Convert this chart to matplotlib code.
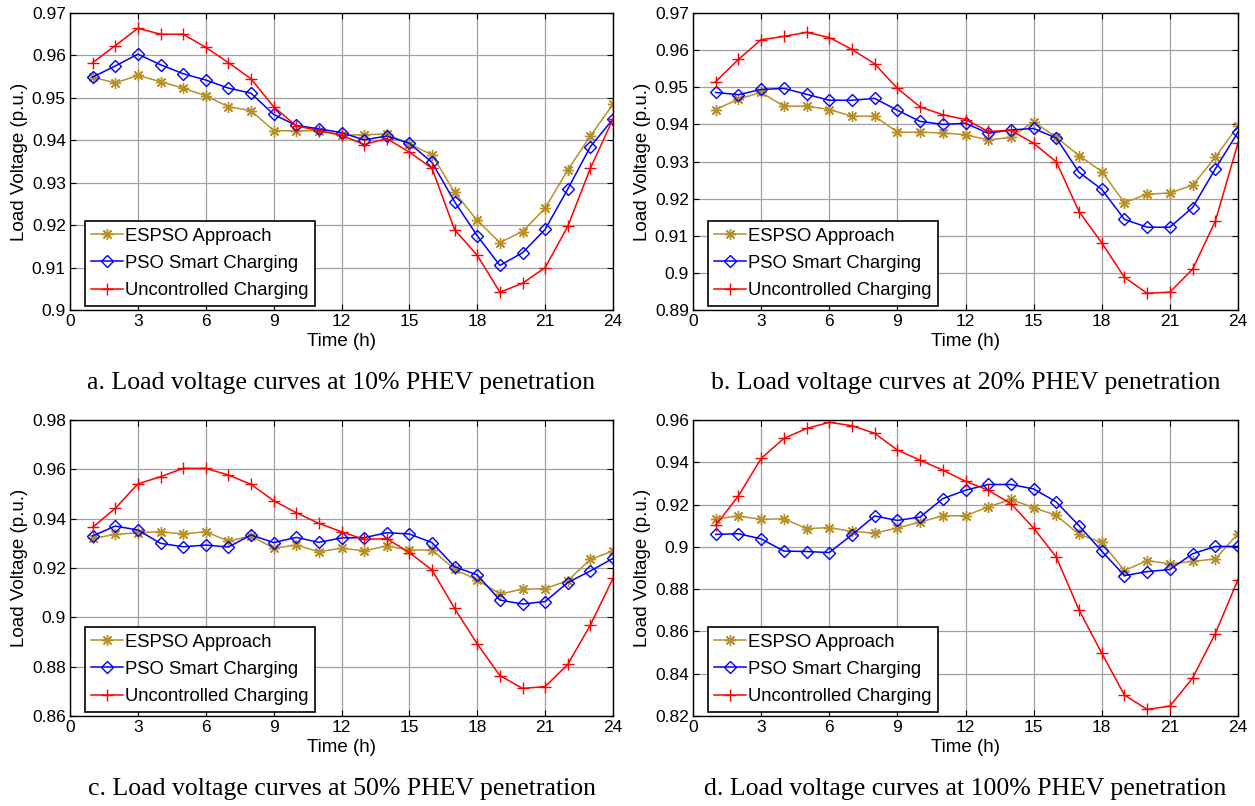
import numpy as np
import matplotlib.pyplot as plt

hours = np.arange(1, 25)

# (a) 10% PHEV penetration
espso_a = [0.9549, 0.9535, 0.9553, 0.9538, 0.9523, 0.9505, 0.9479, 0.9470, 0.9423, 0.9422, 0.9423, 0.9412,
           0.9413, 0.9415, 0.9391, 0.9366, 0.9277, 0.9211, 0.9159, 0.9185, 0.9240, 0.9330, 0.9410, 0.9485]
pso_a = [0.9549, 0.9575, 0.9603, 0.9578, 0.9557, 0.9542, 0.9523, 0.9511, 0.9461, 0.9435, 0.9427, 0.9418,
         0.9401, 0.9410, 0.9393, 0.9348, 0.9255, 0.9175, 0.9105, 0.9135, 0.9190, 0.9285, 0.9385, 0.9450]
unc_a = [0.9583, 0.9623, 0.9664, 0.9650, 0.9650, 0.9619, 0.9583, 0.9545, 0.9479, 0.9434, 0.9423, 0.9412,
         0.9390, 0.9404, 0.9372, 0.9334, 0.9189, 0.9129, 0.9042, 0.9063, 0.9100, 0.9197, 0.9334, 0.9450]

# (b) 20% PHEV penetration
espso_b = [0.9440, 0.9468, 0.9486, 0.9449, 0.9449, 0.9440, 0.9422, 0.9422, 0.9379, 0.9379, 0.9377, 0.9372,
           0.9358, 0.9365, 0.9407, 0.9365, 0.9316, 0.9273, 0.9189, 0.9212, 0.9215, 0.9236, 0.9311, 0.9396]
pso_b = [0.9486, 0.9480, 0.9494, 0.9497, 0.9481, 0.9465, 0.9465, 0.9470, 0.9438, 0.9408, 0.9400, 0.9403,
         0.9376, 0.9385, 0.9389, 0.9363, 0.9271, 0.9225, 0.9144, 0.9123, 0.9123, 0.9176, 0.9280, 0.9379]
unc_b = [0.9515, 0.9575, 0.9628, 0.9637, 0.9648, 0.9634, 0.9602, 0.9563, 0.9497, 0.9447, 0.9426, 0.9413,
         0.9381, 0.9384, 0.9349, 0.9299, 0.9165, 0.9081, 0.8988, 0.8945, 0.8948, 0.9010, 0.9139, 0.9350]

# (c) 50% PHEV penetration
espso_c = [0.9320, 0.9336, 0.9343, 0.9347, 0.9338, 0.9347, 0.9309, 0.9330, 0.9280, 0.9293, 0.9266, 0.9280,
           0.9270, 0.9289, 0.9273, 0.9273, 0.9195, 0.9151, 0.9095, 0.9114, 0.9116, 0.9149, 0.9235, 0.9269]
pso_c = [0.9330, 0.9370, 0.9354, 0.9300, 0.9286, 0.9293, 0.9285, 0.9334, 0.9303, 0.9324, 0.9304, 0.9322,
         0.9323, 0.9343, 0.9338, 0.9303, 0.9205, 0.9172, 0.9070, 0.9054, 0.9064, 0.9141, 0.9188, 0.9239]
unc_c = [0.9365, 0.9442, 0.9541, 0.9570, 0.9604, 0.9604, 0.9577, 0.9539, 0.9473, 0.9424, 0.9381, 0.9347,
         0.9316, 0.9319, 0.9262, 0.9192, 0.9036, 0.8892, 0.8764, 0.8712, 0.8719, 0.8809, 0.8969, 0.9158]

# (d) 100% PHEV penetration
espso_d = [0.9132, 0.9146, 0.9130, 0.9133, 0.9086, 0.9091, 0.9073, 0.9065, 0.9089, 0.9117, 0.9147, 0.9147,
           0.9189, 0.9225, 0.9185, 0.9149, 0.9059, 0.9021, 0.8888, 0.8935, 0.8920, 0.8931, 0.8943, 0.9062]
pso_d = [0.9059, 0.9062, 0.9038, 0.8980, 0.8978, 0.8973, 0.9057, 0.9146, 0.9125, 0.9141, 0.9228, 0.9268,
         0.9295, 0.9295, 0.9274, 0.9212, 0.9100, 0.8980, 0.8864, 0.8883, 0.8893, 0.8967, 0.9002, 0.9002]
unc_d = [0.9102, 0.9241, 0.9418, 0.9513, 0.9560, 0.9589, 0.9573, 0.9537, 0.9458, 0.9410, 0.9363, 0.9310,
         0.9268, 0.9204, 0.9089, 0.8951, 0.8701, 0.8497, 0.8299, 0.8231, 0.8247, 0.8379, 0.8590, 0.8845]

captions = ["a. Load voltage curves at 10% PHEV penetration",
            "b. Load voltage curves at 20% PHEV penetration",
            "c. Load voltage curves at 50% PHEV penetration",
            "d. Load voltage curves at 100% PHEV penetration"]
yticks = [np.round(np.arange(0.90, 0.9701, 0.01), 2),
          np.round(np.arange(0.89, 0.9701, 0.01), 2),
          np.round(np.arange(0.86, 0.9801, 0.02), 2),
          np.round(np.arange(0.82, 0.9601, 0.02), 2)]
panels = [(espso_a, pso_a, unc_a), (espso_b, pso_b, unc_b),
          (espso_c, pso_c, unc_c), (espso_d, pso_d, unc_d)]

gold = "#B8902A"
plt.rcParams["font.family"] = "Liberation Sans"

fig = plt.figure(figsize=(12.55, 8.06), dpi=100)
W, H = 1255, 806
# axes boxes in pixels: left, top, right, bottom
boxes = [(70, 13, 613, 310), (693, 13, 1238, 310),
         (70, 420, 613, 716), (693, 420, 1238, 716)]

for i, (box, (e, p, u)) in enumerate(zip(boxes, panels)):
    l, t, r, b = box
    ax = fig.add_axes([l / W, 1 - b / H, (r - l) / W, (b - t) / H])
    ax.plot(hours, e, color=gold, marker=(8, 2, 0), markersize=8, markeredgewidth=1.0,
            linewidth=1.1, label="ESPSO Approach")
    ax.plot(hours, p, color="blue", marker="D", markersize=6, markerfacecolor="none",
            linewidth=1.1, label="PSO Smart Charging")
    ax.plot(hours, u, color="red", marker="+", markersize=9, linewidth=1.1, label="Uncontrolled Charging")

    ax.set_xlim(0, 24)
    ax.set_xticks(range(0, 25, 3))
    yt = yticks[i]
    ax.set_ylim(yt[0], yt[-1])
    ax.set_yticks(yt)
    ax.set_yticklabels([f"{v:g}" for v in yt])
    ax.grid(True, color="#a0a0a0", linewidth=0.9)
    ax.tick_params(direction="in", top=True, right=True, labelsize=12.5, length=4, pad=3)
    for s in ax.spines.values():
        s.set_linewidth(1.0)
    ax.set_xlabel("Time (h)", fontsize=13.5, labelpad=3)
    ax.set_ylabel("Load Voltage (p.u.)", fontsize=13.5, labelpad=3)

    leg = ax.legend(loc="lower left", bbox_to_anchor=(0.027, 0.015), borderaxespad=0,
                    fontsize=13.3, fancybox=False, framealpha=1, edgecolor="black",
                    handlelength=1.7, handletextpad=0.15, labelspacing=0.55, borderpad=0.35)
    leg.get_frame().set_linewidth(1.2)

    cx = (l + r) / 2 / W
    cy = 1 - (b + 73) / H
    fig.text(cx, cy, captions[i], ha="center", va="center", fontsize=18.5,
             family="Liberation Serif")

fig.savefig("out.png", dpi=100)
